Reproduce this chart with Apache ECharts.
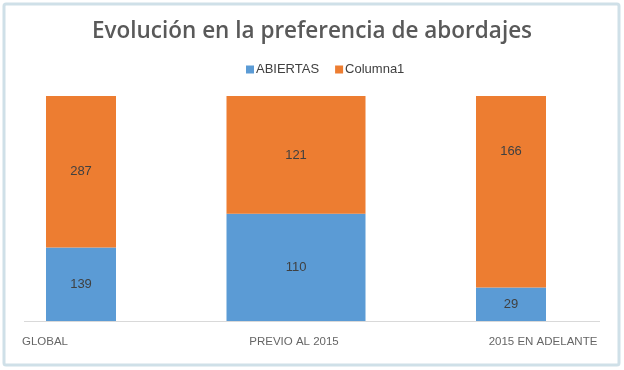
<!DOCTYPE html>
<html><head><meta charset="utf-8">
<script src="https://cdn.jsdelivr.net/npm/echarts@6/dist/echarts.min.js"></script>
<style>html,body{margin:0;padding:0;background:#fff}#c{width:624px;height:370px}</style>
</head><body><div id="c"></div>
<script>
const categories = ['GLOBAL', 'PREVIO AL 2015', '2015 EN ADELANTE'];
const abiertas = [139, 110, 29];
const columna1 = [287, 121, 166];
const wideIndex = 1; // the middle column is drawn wider in the reference

const pct = (a, b) => a.map((v, i) => v / (v + b[i]) * 100);
const pA = pct(abiertas, columna1);
const pC = pct(columna1, abiertas);
const pick = (arr, wide) => arr.map((v, i) => ((i === wideIndex) === wide) ? v : '-');

const BLUE = '#5b9bd5', ORANGE = '#ed7d31';
const lblStyle = (raw) => ({
  show: true, position: 'inside', color: '#404040', fontSize: 13,
  fontFamily: 'Liberation Sans',
  formatter: p => raw[p.dataIndex]
});
// the "166" label sits higher than the segment centre in the reference
const withOffsets = (arr, offsets) => arr.map((v, i) =>
  offsets[i] ? { value: v, label: { offset: [0, offsets[i]] } } : v);

const chart = echarts.init(document.getElementById('c'));
chart.setOption({
  animation: false,
  graphic: [
    { type: 'rect', shape: { x: 4, y: 4, width: 615, height: 361, r: 2 },
      style: { fill: 'none', stroke: '#cfe0e8', lineWidth: 3 }, silent: true },
    { type: 'line', shape: { x1: 24, y1: 321.5, x2: 600, y2: 321.5 },
      style: { stroke: '#d9d9d9', lineWidth: 1 }, silent: true, z: -1 }
  ],
  title: {
    text: 'Evolución en la preferencia de abordajes',
    left: 'center', top: 15,
    textStyle: { fontFamily: 'Open Sans', fontSize: 22.5, fontWeight: 600, color: '#595959' }
  },
  legend: {
    top: 58, left: 241, itemWidth: 8, itemHeight: 8, itemGap: 16,
    icon: 'rect',
    textStyle: { fontFamily: 'Liberation Sans', fontSize: 13, color: '#404040', padding: [0, 0, 0, -3] },
    data: ['ABIERTAS', 'Columna1']
  },
  grid: [
    { left: 81, right: 113, top: 96, height: 225 },
    { left: 45, right: 81, top: 96, height: 225 }
  ],
  xAxis: [
    { type: 'category', gridIndex: 0, data: categories, boundaryGap: false,
      axisLine: { show: false }, axisTick: { show: false }, axisLabel: { show: false } },
    { type: 'category', gridIndex: 0, data: categories, boundaryGap: false,
      axisLine: { show: false }, axisTick: { show: false }, axisLabel: { show: false } },
    { type: 'category', gridIndex: 1, data: categories, boundaryGap: false,
      axisLine: { show: false }, axisTick: { show: false },
      axisLabel: { color: '#666666', fontSize: 11.5, fontFamily: 'Liberation Sans', margin: 15 } }
  ],
  yAxis: [
    { type: 'value', gridIndex: 0, min: 0, max: 100, show: false },
    { type: 'value', gridIndex: 1, min: 0, max: 100, show: false }
  ],
  series: [
    { name: 'ABIERTAS', type: 'bar', stack: 'n', xAxisIndex: 0, yAxisIndex: 0, barWidth: 70, clip: false,
      itemStyle: { color: BLUE }, data: pick(pA, false), label: lblStyle(abiertas) },
    { name: 'Columna1', type: 'bar', stack: 'n', xAxisIndex: 0, yAxisIndex: 0, barWidth: 70, clip: false,
      itemStyle: { color: ORANGE }, data: withOffsets(pick(pC, false), [0, 0, -40]), label: lblStyle(columna1) },
    { name: 'ABIERTAS', type: 'bar', stack: 'w', xAxisIndex: 1, yAxisIndex: 0, barWidth: 139, clip: false,
      itemStyle: { color: BLUE }, data: pick(pA, true), label: lblStyle(abiertas) },
    { name: 'Columna1', type: 'bar', stack: 'w', xAxisIndex: 1, yAxisIndex: 0, barWidth: 139, clip: false,
      itemStyle: { color: ORANGE }, data: pick(pC, true), label: lblStyle(columna1) },
    { type: 'line', xAxisIndex: 2, yAxisIndex: 1, data: [], silent: true }
  ]
});
</script>
</body></html>
